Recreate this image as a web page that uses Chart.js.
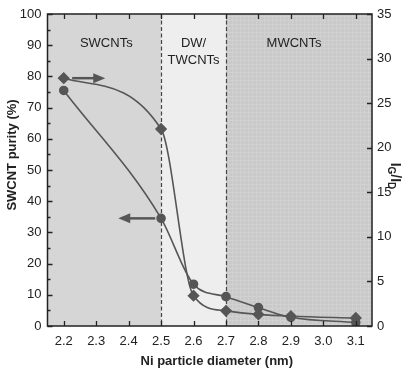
<!DOCTYPE html>
<html><head><meta charset="utf-8">
<script src="https://cdn.jsdelivr.net/npm/chart.js@4.4.0/dist/chart.umd.min.js"></script>
<style>html,body{margin:0;padding:0;background:#fff}#wrap{width:410px;height:370px}</style>
</head><body><div id="wrap"><canvas id="c" width="410" height="370"></canvas></div>
<script>
// ---- data ----
const diameters = [2.2, 2.5, 2.6, 2.7, 2.8, 2.9, 3.1];
const swcntPurity = [75.5, 34.5, 13.4, 9.4, 5.9, 2.8, 1.1];
const igIdRatio = [27.8, 22.1, 3.4, 1.7, 1.3, 1.1, 0.9];
const xTickValues = [2.2, 2.3, 2.4, 2.5, 2.6, 2.7, 2.8, 2.9, 3.0, 3.1];
const leftTickValues = [0, 10, 20, 30, 40, 50, 60, 70, 80, 90, 100];
const rightTickValues = [0, 5, 10, 15, 20, 25, 30, 35];
const regionNames = [['SWCNTs'], ['DW/', 'TWCNTs'], ['MWCNTs']];
const regionBounds = [2.15, 2.5, 2.7, 3.15];

const FONT = '"Liberation Sans", Arial, Helvetica, sans-serif';
const INK = '#222';
const MARK = '#565656';

function makePattern(ctx) {
  const p = document.createElement('canvas');
  p.width = 4; p.height = 4;
  const g = p.getContext('2d');
  g.fillStyle = '#c9c9c9'; g.fillRect(0, 0, 4, 4);
  g.fillStyle = '#d1d1d1'; g.fillRect(0, 0, 4, 1); g.fillRect(0, 0, 1, 4);
  return ctx.createPattern(p, 'repeat');
}

const decor = {
  id: 'decor',
  beforeDatasetsDraw(chart) {
    const {ctx, chartArea: a, scales: {x}} = chart;
    const fills = ['#d6d6d6', '#eeeeee', makePattern(ctx)];
    ctx.save();
    for (let i = 0; i < 3; i++) {
      const x0 = x.getPixelForValue(regionBounds[i]);
      const x1 = x.getPixelForValue(regionBounds[i + 1]);
      ctx.fillStyle = fills[i];
      ctx.fillRect(x0, a.top, x1 - x0, a.bottom - a.top);
    }
    ctx.strokeStyle = '#444';
    ctx.lineWidth = 1.2;
    ctx.setLineDash([4, 2.5]);
    [regionBounds[1], regionBounds[2]].forEach(v => {
      const px = Math.round(x.getPixelForValue(v)) + 0.5;
      ctx.beginPath(); ctx.moveTo(px, a.top); ctx.lineTo(px, a.bottom); ctx.stroke();
    });
    ctx.setLineDash([]);
    ctx.fillStyle = INK;
    ctx.font = '13px ' + FONT;
    ctx.textAlign = 'center';
    ctx.textBaseline = 'middle';
    const nudges = [2, 0, -5];
    for (let i = 0; i < 3; i++) {
      const cx = (x.getPixelForValue(regionBounds[i]) + x.getPixelForValue(regionBounds[i + 1])) / 2;
      regionNames[i].forEach((t, j) => ctx.fillText(t, cx + nudges[i], a.top + 29 + j * 17));
    }
    ctx.restore();
  },
  afterDatasetsDraw(chart) {
    const {ctx, chartArea: a, scales: {x, y, y2}} = chart;
    ctx.save();
    // frame
    ctx.strokeStyle = INK;
    ctx.lineWidth = 1.5;
    ctx.strokeRect(a.left, a.top, a.right - a.left, a.bottom - a.top);
    // ticks
    ctx.lineWidth = 1.3;
    ctx.beginPath();
    xTickValues.forEach(v => {
      const px = Math.round(x.getPixelForValue(v)) + 0.5;
      ctx.moveTo(px, a.bottom); ctx.lineTo(px, a.bottom - 5);
      ctx.moveTo(px, a.top); ctx.lineTo(px, a.top + 5);
    });
    leftTickValues.forEach(v => {
      const py = Math.round(y.getPixelForValue(v)) + 0.5;
      ctx.moveTo(a.left, py); ctx.lineTo(a.left + 5, py);
      if (v < 100) {
        const pm = Math.round(y.getPixelForValue(v + 5)) + 0.5;
        ctx.moveTo(a.left, pm); ctx.lineTo(a.left + 3, pm);
      }
    });
    rightTickValues.forEach(v => {
      const py = Math.round(y2.getPixelForValue(v)) + 0.5;
      ctx.moveTo(a.right, py); ctx.lineTo(a.right - 5, py);
    });
    ctx.stroke();
    // arrows
    function arrow(x0, x1, yy) {
      const dir = Math.sign(x1 - x0);
      ctx.strokeStyle = MARK; ctx.fillStyle = MARK; ctx.lineWidth = 2.5;
      ctx.beginPath(); ctx.moveTo(x0, yy); ctx.lineTo(x1 - dir * 9, yy); ctx.stroke();
      ctx.beginPath(); ctx.moveTo(x1, yy); ctx.lineTo(x1 - dir * 12, yy - 5); ctx.lineTo(x1 - dir * 12, yy + 5); ctx.closePath(); ctx.fill();
    }
    arrow(x.getPixelForValue(2.226), x.getPixelForValue(2.328), y2.getPixelForValue(igIdRatio[0]));
    arrow(x.getPixelForValue(2.482), x.getPixelForValue(2.368), y.getPixelForValue(swcntPurity[1]));
    // titles
    ctx.fillStyle = INK;
    ctx.font = 'bold 13px ' + FONT;
    ctx.textAlign = 'center';
    ctx.textBaseline = 'middle';
    ctx.fillText('Ni particle diameter (nm)', (a.left + a.right) / 2 + 7, 361);
    ctx.save();
    ctx.translate(12.5, 155);
    ctx.rotate(-Math.PI / 2);
    ctx.fillText('SWCNT purity (%)', 0, 0);
    ctx.restore();
    // right title I_G/I_D rotated clockwise
    ctx.save();
    ctx.translate(396, 176);
    ctx.rotate(Math.PI / 2);
    ctx.textAlign = 'left';
    ctx.textBaseline = 'alphabetic';
    const big = 'bold 14px ' + FONT, small = 'bold 10px ' + FONT;
    const parts = [['I', big, 0], ['G', small, 3], ['/', big, 0], ['I', big, 0], ['D', small, 3]];
    let w = 0;
    parts.forEach(p => { ctx.font = p[1]; w += ctx.measureText(p[0]).width; });
    let cx = -w / 2;
    parts.forEach(p => { ctx.font = p[1]; ctx.fillText(p[0], cx, 5 + p[2]); cx += ctx.measureText(p[0]).width; });
    ctx.restore();
    ctx.restore();
  }
};

const tickFont = {family: FONT, size: 13};

new Chart(document.getElementById('c'), {
  type: 'line',
  data: {
    datasets: [
      {
        label: 'SWCNT purity',
        data: diameters.map((d, i) => ({x: d, y: swcntPurity[i]})),
        yAxisID: 'y',
        borderColor: MARK, backgroundColor: MARK,
        borderWidth: 1.6, pointStyle: 'circle', pointRadius: 4,
        cubicInterpolationMode: 'monotone'
      },
      {
        label: 'IG/ID',
        data: diameters.map((d, i) => ({x: d, y: igIdRatio[i]})),
        yAxisID: 'y2',
        borderColor: MARK, backgroundColor: MARK,
        borderWidth: 1.6, pointStyle: 'rectRot', pointRadius: 5,
        cubicInterpolationMode: 'monotone'
      }
    ]
  },
  options: {
    responsive: false,
    animation: false,
    devicePixelRatio: 1,
    layout: {padding: {top: 14, left: 0, right: 0, bottom: 0}},
    plugins: {legend: {display: false}, tooltip: {enabled: false}},
    scales: {
      x: {
        type: 'linear', position: 'bottom', min: 2.15, max: 3.15,
        afterBuildTicks: s => { s.ticks = xTickValues.map(v => ({value: v})); },
        afterFit: s => { s.height = 44; },
        grid: {display: false, drawTicks: false}, border: {display: false},
        ticks: {font: tickFont, color: INK, padding: 8, maxRotation: 0, autoSkip: false,
          callback: v => Number(v).toFixed(1)}
      },
      y: {
        type: 'linear', position: 'left', min: 0, max: 100,
        afterBuildTicks: s => { s.ticks = leftTickValues.map(v => ({value: v})); },
        afterFit: s => { s.width = 47.5; },
        grid: {display: false, drawTicks: false}, border: {display: false},
        ticks: {font: tickFont, color: INK, padding: 6}
      },
      y2: {
        type: 'linear', position: 'right', min: 0, max: 35,
        afterBuildTicks: s => { s.ticks = rightTickValues.map(v => ({value: v})); },
        afterFit: s => { s.width = 38; },
        grid: {display: false, drawTicks: false}, border: {display: false},
        ticks: {font: tickFont, color: INK, padding: 5}
      }
    }
  },
  plugins: [decor]
});
</script></body></html>
